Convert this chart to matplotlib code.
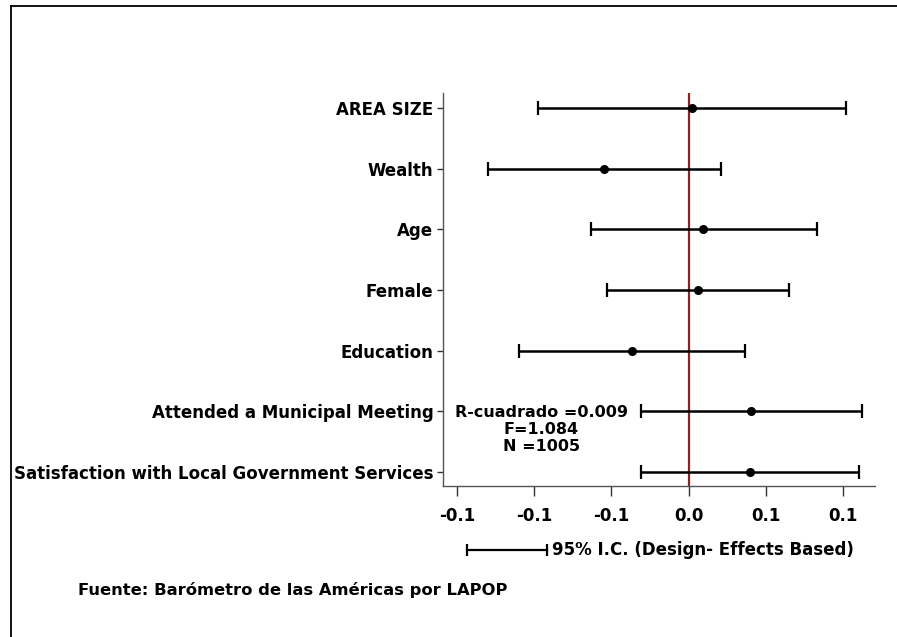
import matplotlib
matplotlib.use("Agg")
import matplotlib.pyplot as plt
from matplotlib.lines import Line2D

plt.rcParams['font.family'] = ['DejaVu Sans']

# coefficients and 95% CI, top to bottom
labels = ["AREA SIZE", "Wealth", "Age", "Female", "Education",
          "Attended a Municipal Meeting", "Satisfaction with Local Government Services"]
coef = [0.0023, -0.0546, 0.0095, 0.0058, -0.0367, 0.0405, 0.0397]
ci_low = [-0.0973, -0.1296, -0.0634, -0.0526, -0.1100, -0.0309, -0.0309]
ci_high = [0.1015, 0.0209, 0.0832, 0.0647, 0.0366, 0.1123, 0.1102]
xticks = [-0.15, -0.10, -0.05, 0.0, 0.05, 0.10]
stats_text = "R-cuadrado =0.009\nF=1.084\nN =1005"

W, H = 897, 637
fig = plt.figure(figsize=(W / 100, H / 100), dpi=100)
ax = fig.add_axes([443 / W, 1 - 486 / H, (875 - 443) / W, (486 - 93) / H])

ypos = list(range(len(labels), 0, -1))
ax.axvline(0, color="#8b2323", lw=1.6, zorder=1)
ax.errorbar(coef, ypos, xerr=[[c - l for c, l in zip(coef, ci_low)],
                              [h - c for c, h in zip(coef, ci_high)]],
            fmt="o", color="black", ms=5.5, elinewidth=1.8, capsize=5,
            capthick=1.6, zorder=3)

ax.set_xlim(-0.159, 0.1205)
ax.set_ylim(0.77, 7.25)
ax.set_yticks(ypos)
ax.set_yticklabels(labels, fontsize=12, fontweight="bold")
ax.set_xticks(xticks)
ax.set_xticklabels([f"{v:.1f}" for v in [-0.1, -0.1, -0.1, 0.0, 0.1, 0.1]],
                   fontsize=12, fontweight="bold")
ax.tick_params(axis="x", length=7, width=1, color="#333333", pad=8)
ax.tick_params(axis="y", length=4, width=1, color="#333333", pad=3)
for s in ["top", "right"]:
    ax.spines[s].set_visible(False)
for s in ["left", "bottom"]:
    ax.spines[s].set_color("#555555")
    ax.spines[s].set_linewidth(1)

ax.text(-0.0953, 2.1, stats_text, ha="center", va="top", fontsize=11.5,
        fontweight="bold", linespacing=1.15)

# legend for CI
fig.add_artist(Line2D([467 / W, 547 / W], [1 - 550 / H] * 2, color="black", lw=1.6,
                      marker="|", markersize=9, markeredgewidth=1.6))
fig.text(552 / W, 1 - 550 / H, "95% I.C. (Design- Effects Based)", ha="left",
         va="center", fontsize=12, fontweight="bold")

fig.text(78 / W, 1 - 590 / H, "Fuente: Barómetro de las Américas por LAPOP",
         ha="left", va="center", fontsize=11.8, fontweight="bold")

# outer frame (left and top)
fig.add_artist(Line2D([11 / W, 11 / W], [0, 1 - 5.5 / H], color="black", lw=1.3))
fig.add_artist(Line2D([11 / W, 1], [1 - 5.5 / H] * 2, color="black", lw=1.3))

fig.savefig("out.png", dpi=100)
